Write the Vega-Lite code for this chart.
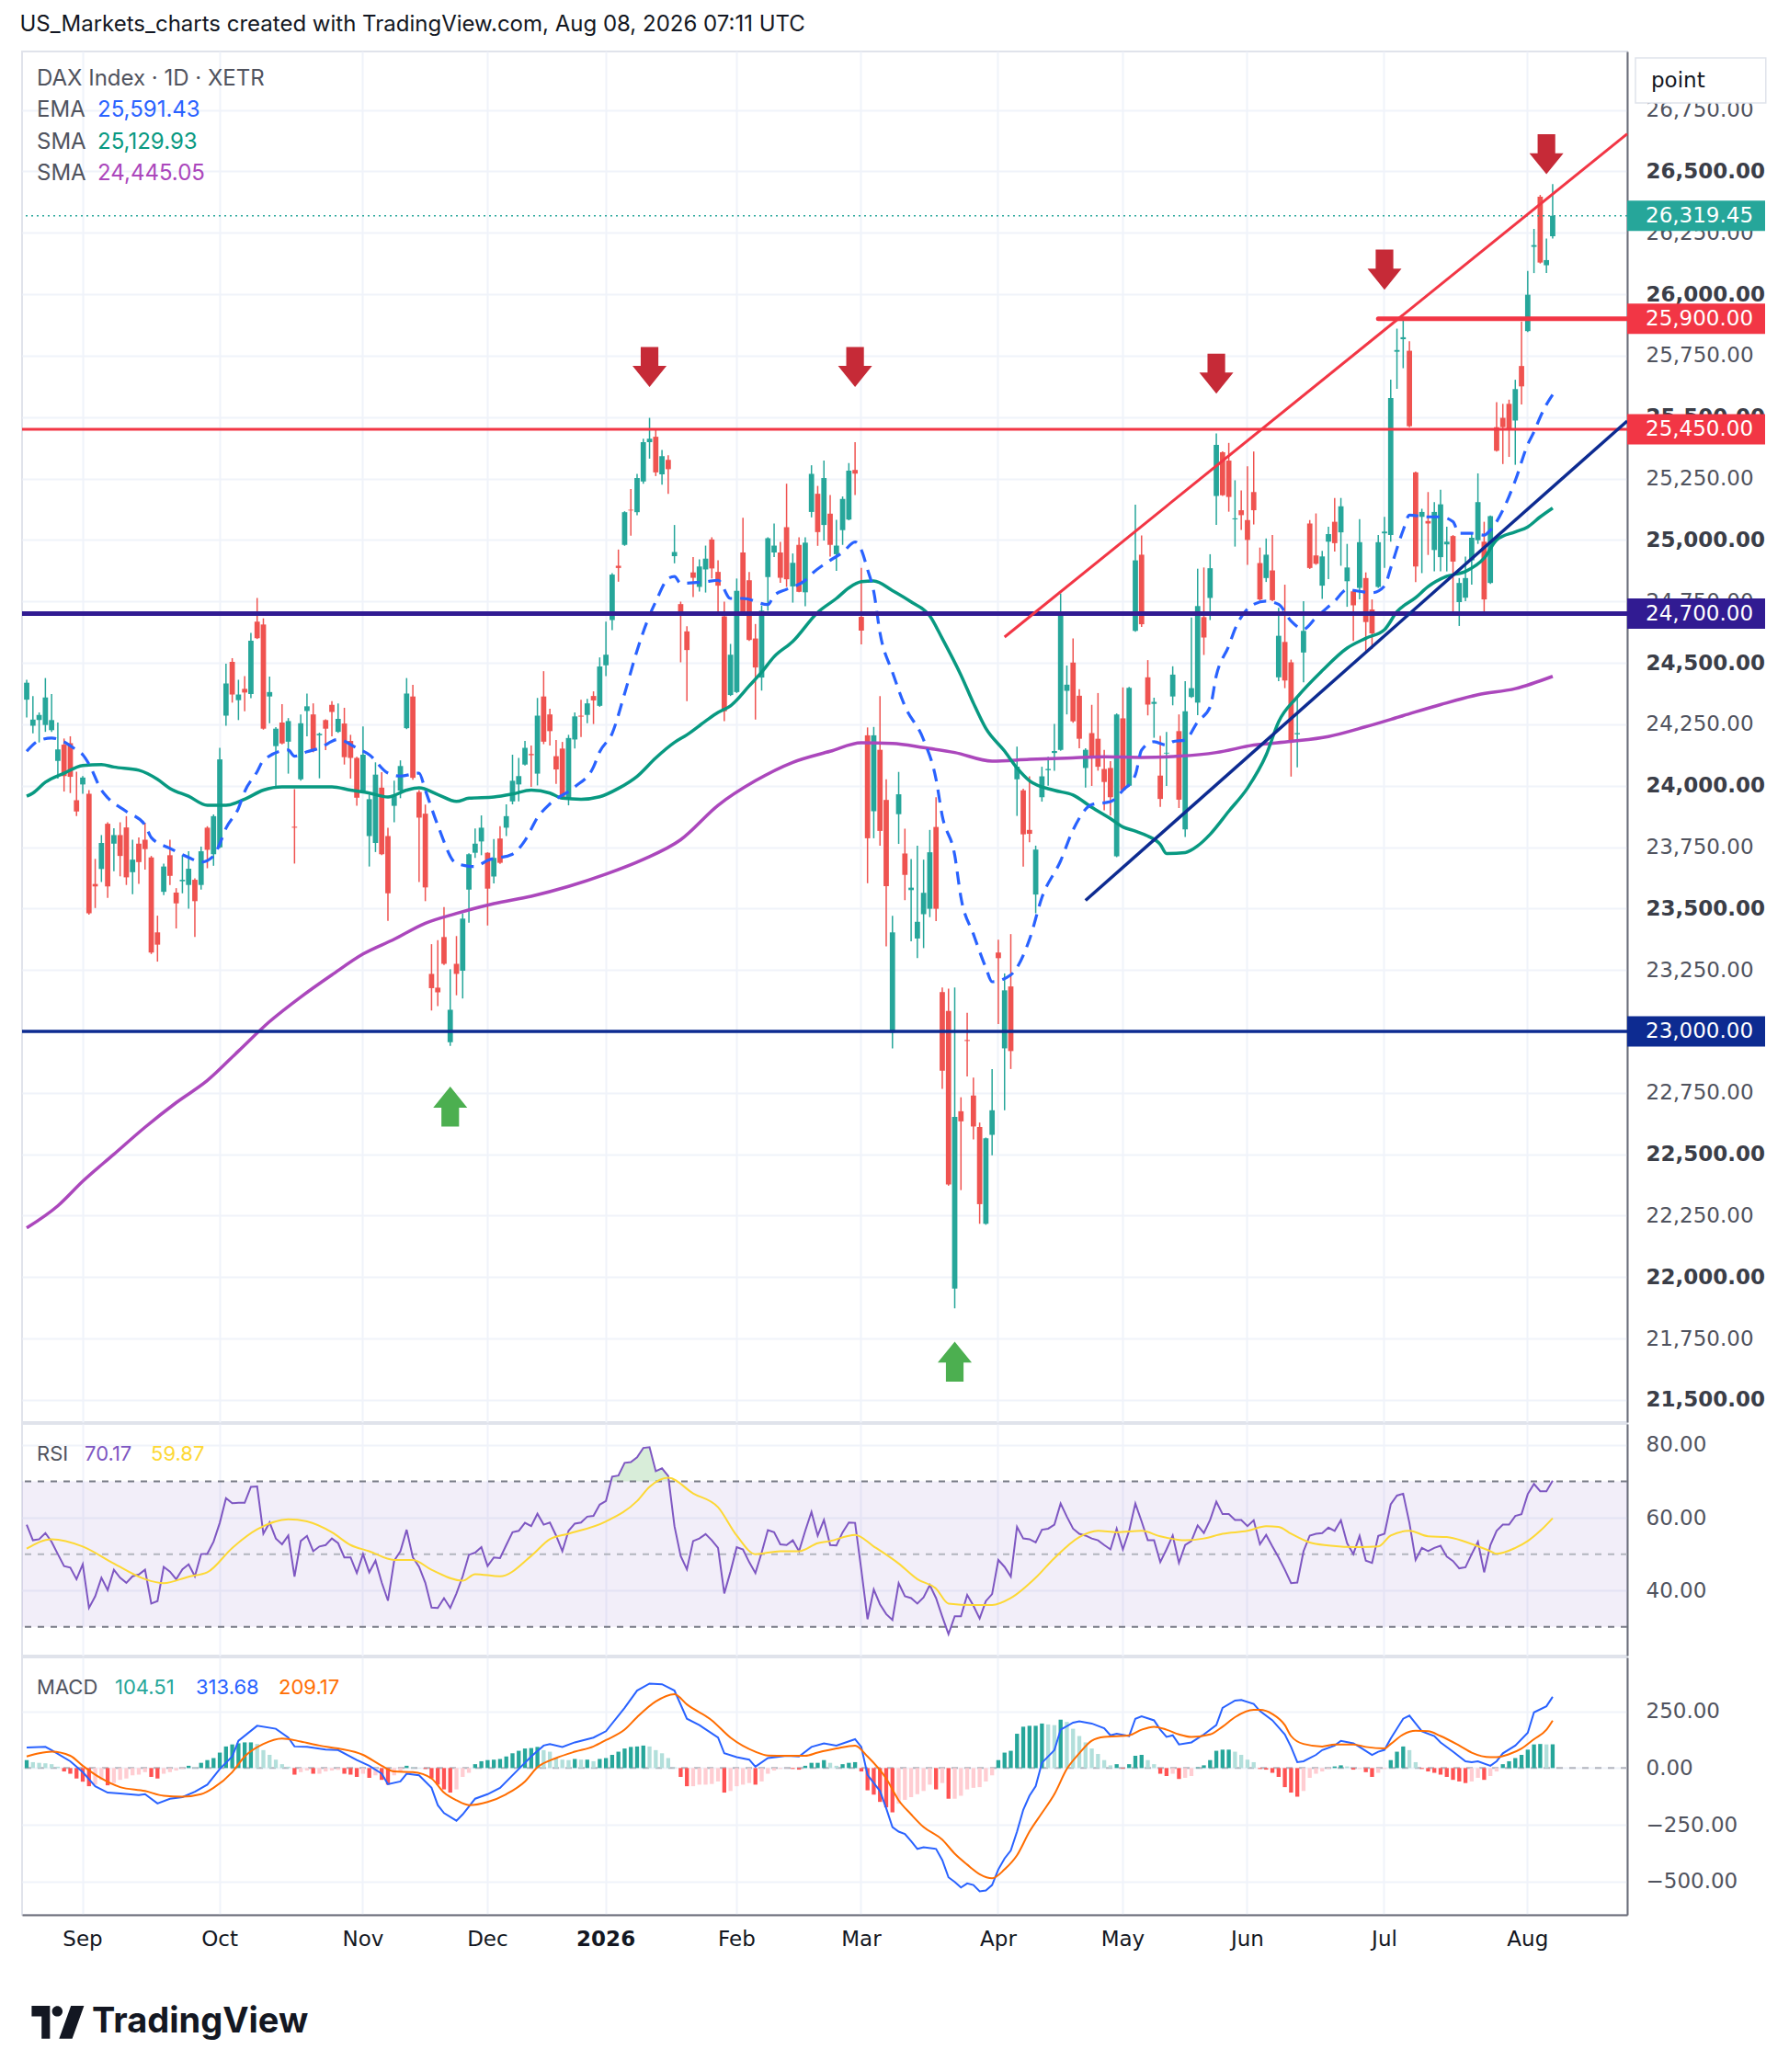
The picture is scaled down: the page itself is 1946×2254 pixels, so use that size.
{
  "$schema": "https://vega.github.io/schema/vega-lite/v6.json",
  "background": "#ffffff",
  "padding": {"left": 20, "top": 14, "right": 20, "bottom": 36},
  "config": {
    "font": "Inter",
    "view": {"stroke": "#E0E3EB", "strokeWidth": 2},
    "axis": {"labelFont": "DejaVu Sans", "labelFontSize": 23, "labelColor": "#50535E", "gridColor": "#F0F3FA", "gridWidth": 2, "ticks": false, "domainColor": "#6A6D78", "domainWidth": 2},
    "text": {"font": "Inter"},
    "title": {"font": "Inter"}
  },
  "datasets": {
    "bars": [
      {"d":"2025-08-19","o":24350,"h":24431,"l":24278,"c":24419,"r":58.1,"g":35,"e":24140,"s":23957,"t":22200,"q":51.5,"m":90,"n":51},
      {"d":"2025-08-20","o":24244,"h":24365,"l":24213,"c":24269,"r":53.8,"g":26,"s":23970},
      {"d":"2025-08-21","o":24267,"h":24298,"l":24176,"c":24288,"r":54.1,"g":23,"e":24184,"n":65},
      {"d":"2025-08-22","o":24247,"h":24438,"l":24219,"c":24359,"r":55.8,"g":21,"s":24014,"m":93},
      {"d":"2025-08-25","o":24226,"h":24373,"l":24219,"c":24267,"r":53.4,"g":17,"e":24194,"q":54.1,"m":79,"n":72},
      {"d":"2025-08-26","o":24101,"h":24257,"l":24029,"c":24148,"r":50.0,"g":6,"t":22290},
      {"d":"2025-08-27","o":24167,"h":24192,"l":23976,"c":24039,"r":46.7,"g":-15,"s":24051},
      {"d":"2025-08-28","o":24173,"h":24201,"l":23970,"c":24036,"r":46.3,"g":-25,"m":30,"n":54},
      {"d":"2025-08-29","o":23941,"h":24057,"l":23876,"c":23895,"r":43.1,"g":-46,"e":24145},
      {"d":"2025-09-01","o":24005,"h":24039,"l":23967,"c":24033,"r":47.2,"g":-60,"e":24126,"s":24082,"t":22390,"q":52.1,"m":-18,"n":10},
      {"d":"2025-09-02","o":23967,"h":23982,"l":23475,"c":23481,"r":35.2,"g":-80,"e":24088},
      {"d":"2025-09-03","o":23600,"h":23702,"l":23502,"c":23590,"r":38.4,"g":-73,"m":-80},
      {"d":"2025-09-04","o":23661,"h":23799,"l":23608,"c":23767,"r":43.5,"g":-52,"e":23982,"s":24086,"n":-46},
      {"d":"2025-09-05","o":23845,"h":23851,"l":23543,"c":23590,"r":40.1,"g":-76,"e":23951,"m":-108},
      {"d":"2025-09-08","o":23764,"h":23827,"l":23652,"c":23799,"r":45.7,"g":-66,"s":24076,"t":22500,"q":47.4},
      {"d":"2025-09-09","o":23799,"h":23851,"l":23631,"c":23714,"r":43.5,"g":-52,"m":-112,"n":-84},
      {"d":"2025-09-10","o":23830,"h":23876,"l":23596,"c":23627,"r":42.1,"g":-46,"e":23895},
      {"d":"2025-09-11","o":23648,"h":23780,"l":23558,"c":23699,"r":43.9,"g":-32},
      {"d":"2025-09-12","o":23764,"h":23789,"l":23600,"c":23689,"r":44.4,"g":-29,"s":24063,"m":-119},
      {"d":"2025-09-15","o":23780,"h":23849,"l":23658,"c":23742,"r":45.7,"g":-18,"e":23840,"t":22610,"q":43.1,"m":-115,"n":-101},
      {"d":"2025-09-16","o":23708,"h":23714,"l":23315,"c":23321,"r":36.4,"g":-39,"e":23789},
      {"d":"2025-09-17","o":23403,"h":23471,"l":23284,"c":23353,"r":37.1,"g":-46,"s":24026,"m":-156},
      {"d":"2025-09-18","o":23568,"h":23683,"l":23555,"c":23671,"r":46.5,"g":-25,"q":42.0,"n":-122},
      {"d":"2025-09-19","o":23717,"h":23780,"l":23596,"c":23633,"r":45.2,"g":-18,"e":23745,"s":23989,"m":-135},
      {"d":"2025-09-22","o":23565,"h":23583,"l":23419,"c":23521,"r":43.1,"g":-11,"t":22710},
      {"d":"2025-09-23","o":23611,"h":23717,"l":23562,"c":23617,"r":45.8,"g":-4,"m":-128,"n":-126},
      {"d":"2025-09-24","o":23596,"h":23733,"l":23499,"c":23662,"r":47.2,"g":10,"e":23708,"s":23957,"q":43.8},
      {"d":"2025-09-25","o":23617,"h":23623,"l":23384,"c":23530,"r":43.9,"g":3,"m":-104},
      {"d":"2025-09-26","o":23596,"h":23752,"l":23577,"c":23733,"r":50.0,"g":23,"e":23689,"n":-115},
      {"d":"2025-09-29","o":23829,"h":23835,"l":23664,"c":23739,"r":50.1,"g":35,"s":23920,"t":22800,"q":45.0,"m":-73},
      {"d":"2025-09-30","o":23721,"h":23883,"l":23674,"c":23876,"r":53.4,"g":44,"e":23714,"n":-87},
      {"d":"2025-10-01","o":23749,"h":24154,"l":23745,"c":24107,"r":58.6,"g":68,"e":23764,"m":-4},
      {"d":"2025-10-02","o":24285,"h":24496,"l":24244,"c":24416,"r":65.4,"g":95,"e":23827,"s":23920},
      {"d":"2025-10-03","o":24504,"h":24519,"l":24338,"c":24371,"r":64.0,"g":104,"q":51.7,"m":51,"n":-18},
      {"d":"2025-10-06","o":24348,"h":24431,"l":24267,"c":24371,"r":64.1,"g":109,"e":23908,"t":22920,"m":120},
      {"d":"2025-10-07","o":24394,"h":24446,"l":24303,"c":24379,"r":64.1,"g":113,"e":23976,"s":23945,"n":51},
      {"d":"2025-10-08","o":24373,"h":24622,"l":24356,"c":24590,"r":68.5,"g":113},
      {"d":"2025-10-09","o":24668,"h":24764,"l":24597,"c":24600,"r":68.6,"g":106,"e":24057,"q":56.8,"m":186},
      {"d":"2025-10-10","o":24656,"h":24681,"l":24228,"c":24232,"r":55.6,"g":79,"e":24103,"s":23982,"n":106},
      {"d":"2025-10-13","o":24363,"h":24444,"l":24254,"c":24381,"r":58.7,"g":58,"t":23040},
      {"d":"2025-10-14","o":24161,"h":24238,"l":23995,"c":24232,"r":54.3,"g":37,"m":173},
      {"d":"2025-10-15","o":24257,"h":24332,"l":24168,"c":24172,"r":52.7,"g":17,"s":23995,"n":130},
      {"d":"2025-10-16","o":24179,"h":24275,"l":24049,"c":24263,"r":55.1,"g":6,"e":24145,"q":59.6,"m":134},
      {"d":"2025-10-17","o":23833,"h":23986,"l":23683,"c":23829,"r":43.8,"g":-29,"e":24120,"m":95},
      {"d":"2025-10-20","o":24026,"h":24290,"l":24020,"c":24254,"r":53.6,"g":-18,"s":23995,"t":23140,"n":117},
      {"d":"2025-10-21","o":24304,"h":24375,"l":24201,"c":24323,"r":55.0,"g":-11,"e":24138,"q":59.0,"m":93},
      {"d":"2025-10-22","o":24290,"h":24335,"l":24136,"c":24142,"r":50.8,"g":-25},
      {"d":"2025-10-23","o":24205,"h":24216,"l":24030,"c":24211,"r":52.1,"g":-25,"e":24153,"s":23995,"n":99},
      {"d":"2025-10-24","o":24267,"h":24270,"l":24145,"c":24232,"r":52.5,"g":-15,"m":81},
      {"d":"2025-10-27","o":24329,"h":24344,"l":24201,"c":24300,"r":54.3,"g":-11,"s":23995,"t":23230,"q":56.0},
      {"d":"2025-10-28","o":24219,"h":24335,"l":24215,"c":24272,"r":53.0,"g":-8,"e":24188,"m":79,"n":86},
      {"d":"2025-10-29","o":24253,"h":24317,"l":24086,"c":24116,"r":49.1,"g":-25},
      {"d":"2025-10-30","o":24182,"h":24207,"l":24029,"c":24113,"r":49.1,"g":-29,"s":23982,"q":52.5},
      {"d":"2025-10-31","o":24113,"h":24118,"l":23918,"c":23951,"r":44.8,"g":-39,"e":24153,"m":35},
      {"d":"2025-11-03","o":23979,"h":24241,"l":23975,"c":24126,"r":50.0,"g":-25,"t":23315,"n":58},
      {"d":"2025-11-04","o":23795,"h":23964,"l":23671,"c":23945,"r":45.0,"g":-43,"e":24126,"s":23970,"q":50.8,"m":10},
      {"d":"2025-11-05","o":23767,"h":24095,"l":23730,"c":24045,"r":48.2,"g":-32},
      {"d":"2025-11-06","o":23992,"h":24055,"l":23717,"c":23721,"r":42.2,"g":-52,"m":-25,"n":10},
      {"d":"2025-11-07","o":23795,"h":23829,"l":23450,"c":23562,"r":37.2,"g":-73,"e":24051,"s":23954,"m":-71},
      {"d":"2025-11-10","o":23918,"h":24020,"l":23851,"c":23958,"r":48.2,"g":-32,"t":23375,"q":48.4,"n":-15},
      {"d":"2025-11-11","o":23980,"h":24103,"l":23949,"c":24080,"r":50.8,"g":-15,"e":24039,"m":-59},
      {"d":"2025-11-12","o":24234,"h":24438,"l":24230,"c":24375,"r":56.7,"g":10,"s":23982,"m":-25},
      {"d":"2025-11-13","o":24363,"h":24410,"l":24024,"c":24032,"r":49.1,"g":3,"q":48.4,"n":-18},
      {"d":"2025-11-14","o":23974,"h":23982,"l":23608,"c":23870,"r":46.5,"g":1,"e":24051,"s":23991,"m":-32},
      {"d":"2025-11-17","o":23886,"h":23923,"l":23530,"c":23586,"r":42.1,"g":-4,"e":23982,"t":23440},
      {"d":"2025-11-18","o":23234,"h":23355,"l":23085,"c":23176,"r":35.3,"g":-46,"q":45.7,"m":-87,"n":-46},
      {"d":"2025-11-19","o":23178,"h":23371,"l":23103,"c":23159,"r":35.2,"g":-73,"e":23839,"s":23964,"m":-163},
      {"d":"2025-11-20","o":23384,"h":23506,"l":23270,"c":23275,"r":37.9,"g":-94,"m":-198,"n":-108},
      {"d":"2025-11-21","o":22956,"h":23253,"l":22941,"c":23088,"r":35.2,"g":-108},
      {"d":"2025-11-24","o":23275,"h":23388,"l":23147,"c":23234,"r":39.2,"g":-94,"e":23683,"s":23936,"t":23480,"m":-232,"n":-142},
      {"d":"2025-11-25","o":23247,"h":23480,"l":23134,"c":23459,"r":43.9,"g":-39,"q":42.7,"m":-204},
      {"d":"2025-11-26","o":23577,"h":23725,"l":23442,"c":23721,"r":49.8,"g":-21,"s":23949,"n":-163},
      {"d":"2025-11-27","o":23727,"h":23826,"l":23706,"c":23764,"r":50.4,"g":17,"e":23671,"q":44.5,"m":-135},
      {"d":"2025-11-28","o":23773,"h":23879,"l":23717,"c":23829,"r":51.9,"g":30},
      {"d":"2025-12-01","o":23727,"h":23729,"l":23431,"c":23581,"r":46.7,"g":35,"e":23696,"m":-115,"n":-149},
      {"d":"2025-12-02","o":23630,"h":23783,"l":23602,"c":23706,"r":49.1,"g":37,"s":23954,"t":23520},
      {"d":"2025-12-03","o":23785,"h":23835,"l":23682,"c":23686,"r":48.9,"g":40,"q":43.9,"m":-87},
      {"d":"2025-12-04","o":23829,"h":23924,"l":23795,"c":23876,"r":52.5,"g":51,"n":-115},
      {"d":"2025-12-05","o":23936,"h":24126,"l":23924,"c":24020,"r":56.0,"g":65,"e":23721,"s":23966},
      {"d":"2025-12-08","o":24005,"h":24113,"l":23936,"c":24039,"r":56.4,"g":76,"m":-4},
      {"d":"2025-12-09","o":24086,"h":24182,"l":24082,"c":24154,"r":58.6,"g":86,"e":23777,"n":-59},
      {"d":"2025-12-10","o":24129,"h":24163,"l":23995,"c":24124,"r":57.7,"g":88,"s":23982,"t":23550,"q":49.5,"m":51},
      {"d":"2025-12-11","o":24049,"h":24357,"l":24001,"c":24285,"r":61.1,"g":93,"e":23870,"n":3},
      {"d":"2025-12-12","o":24363,"h":24466,"l":24169,"c":24179,"r":58.1,"g":79,"m":99},
      {"d":"2025-12-15","o":24290,"h":24313,"l":24163,"c":24222,"r":58.7,"g":72,"e":23926,"s":23970,"q":54.1,"m":106},
      {"d":"2025-12-16","o":24120,"h":24186,"l":24007,"c":24066,"r":55.1,"g":44,"n":44},
      {"d":"2025-12-17","o":24151,"h":24178,"l":23945,"c":23949,"r":50.8,"g":37,"s":23949,"m":93},
      {"d":"2025-12-18","o":23949,"h":24207,"l":23920,"c":24194,"r":56.4,"g":35,"t":23590,"q":55.6},
      {"d":"2025-12-19","o":24188,"h":24298,"l":24151,"c":24282,"r":58.4,"g":40,"e":23995,"m":113,"n":72},
      {"d":"2025-12-22","o":24285,"h":24350,"l":24198,"c":24281,"r":58.7,"g":37,"s":23945},
      {"d":"2025-12-23","o":24288,"h":24353,"l":24254,"c":24335,"r":60.3,"g":37},
      {"d":"2025-12-29","o":24365,"h":24384,"l":24251,"c":24347,"r":60.5,"g":30,"e":24076,"m":134,"n":95},
      {"d":"2025-12-30","o":24325,"h":24522,"l":24321,"c":24485,"r":63.6,"g":40,"e":24138,"s":23955},
      {"d":"2026-01-02","o":24490,"h":24668,"l":24446,"c":24533,"r":64.6,"g":44,"t":23640,"q":59.0,"m":162,"n":123},
      {"d":"2026-01-05","o":24674,"h":24865,"l":24633,"c":24859,"r":71.3,"g":58,"e":24213},
      {"d":"2026-01-06","o":24895,"h":24961,"l":24830,"c":24886,"r":71.6,"g":72,"s":23989},
      {"d":"2026-01-07","o":24980,"h":25117,"l":24976,"c":25113,"r":75.1,"g":86,"e":24375,"m":265,"n":169},
      {"d":"2026-01-08","o":25123,"h":25207,"l":25017,"c":25120,"r":75.3,"g":93},
      {"d":"2026-01-09","o":25113,"h":25269,"l":25101,"c":25252,"r":76.6,"g":95,"e":24550,"s":24038,"q":64.6,"m":341,"n":224},
      {"d":"2026-01-12","o":25238,"h":25412,"l":25229,"c":25398,"r":79.2,"g":99,"t":23700},
      {"d":"2026-01-13","o":25398,"h":25497,"l":25331,"c":25412,"r":79.4,"g":95,"e":24693,"q":68.5,"m":372},
      {"d":"2026-01-14","o":25420,"h":25454,"l":25260,"c":25275,"r":72.8,"g":79,"e":24749,"s":24113,"n":293},
      {"d":"2026-01-15","o":25267,"h":25366,"l":25225,"c":25341,"r":73.6,"g":65,"m":369},
      {"d":"2026-01-16","o":25326,"h":25345,"l":25188,"c":25288,"r":71.5,"g":44,"e":24843,"q":71.0},
      {"d":"2026-01-19","o":24934,"h":25061,"l":24905,"c":24951,"r":57.7,"g":3,"e":24851,"s":24176,"m":341,"n":325},
      {"d":"2026-01-20","o":24739,"h":24749,"l":24502,"c":24693,"r":49.5,"g":-39,"e":24824,"t":23780},
      {"d":"2026-01-21","o":24628,"h":24649,"l":24344,"c":24552,"r":45.8,"g":-80,"s":24207,"m":217,"n":280},
      {"d":"2026-01-22","o":24868,"h":24930,"l":24768,"c":24846,"r":53.6,"g":-80,"q":66.7},
      {"d":"2026-01-23","o":24809,"h":24921,"l":24790,"c":24892,"r":54.3,"g":-73,"m":189},
      {"d":"2026-01-26","o":24880,"h":24977,"l":24786,"c":24924,"r":55.5,"g":-73,"e":24830,"s":24263},
      {"d":"2026-01-27","o":25002,"h":25011,"l":24843,"c":24884,"r":53.8,"g":-70,"n":210},
      {"d":"2026-01-28","o":24870,"h":24917,"l":24699,"c":24814,"r":51.7,"g":-59,"e":24836,"s":24298,"t":23920,"q":62.9,"m":134},
      {"d":"2026-01-29","o":24689,"h":24749,"l":24263,"c":24303,"r":39.2,"g":-108,"m":65},
      {"d":"2026-01-30","o":24369,"h":24577,"l":24365,"c":24533,"r":45.2,"g":-101,"e":24762,"s":24325,"n":134},
      {"d":"2026-02-02","o":24381,"h":24843,"l":24377,"c":24793,"r":51.9,"g":-80,"q":55.1,"m":48},
      {"d":"2026-02-03","o":24949,"h":25090,"l":24693,"c":24697,"r":51.3,"g":-73,"e":24762},
      {"d":"2026-02-04","o":24836,"h":24870,"l":24589,"c":24593,"r":47.8,"g":-66,"s":24406,"m":37},
      {"d":"2026-02-05","o":24599,"h":24658,"l":24269,"c":24481,"r":44.8,"g":-73,"t":24020,"q":50.0,"m":6,"n":72},
      {"d":"2026-02-06","o":24440,"h":24733,"l":24387,"c":24712,"r":50.4,"g":-59,"s":24462},
      {"d":"2026-02-09","o":24849,"h":25011,"l":24712,"c":25007,"r":56.6,"g":-25,"e":24737,"m":44,"n":55},
      {"d":"2026-02-10","o":24949,"h":25067,"l":24930,"c":24977,"r":56.0,"g":-11,"e":24774,"s":24525},
      {"d":"2026-02-11","o":24949,"h":24992,"l":24826,"c":24846,"r":52.7,"g":-4,"q":50.8},
      {"d":"2026-02-12","o":25052,"h":25229,"l":24809,"c":24840,"r":52.5,"g":-1,"e":24799,"m":54,"n":54},
      {"d":"2026-02-13","o":24811,"h":24945,"l":24745,"c":24907,"r":53.8,"g":-4,"s":24587,"t":24095},
      {"d":"2026-02-16","o":24980,"h":25011,"l":24787,"c":24789,"r":50.8,"g":-7,"q":50.8,"m":51},
      {"d":"2026-02-17","o":24787,"h":25011,"l":24730,"c":24989,"r":56.4,"g":10,"e":24836,"n":54},
      {"d":"2026-02-18","o":25114,"h":25304,"l":25092,"c":25269,"r":61.6,"g":23,"e":24861,"m":93},
      {"d":"2026-02-19","o":25188,"h":25220,"l":24976,"c":25032,"r":55.1,"g":23,"s":24705,"q":53.0,"n":68},
      {"d":"2026-02-20","o":25061,"h":25323,"l":24998,"c":25252,"r":59.4,"g":35,"m":109},
      {"d":"2026-02-23","o":25107,"h":25183,"l":24932,"c":24980,"r":52.5,"g":23,"e":24917,"t":24140,"q":53.6},
      {"d":"2026-02-24","o":24942,"h":25082,"l":24874,"c":24977,"r":52.4,"g":10,"s":24762,"m":99,"n":86},
      {"d":"2026-02-25","o":25040,"h":25177,"l":24980,"c":25167,"r":56.0,"g":17,"e":24949},
      {"d":"2026-02-26","o":25083,"h":25313,"l":25080,"c":25282,"r":58.7,"g":23,"s":24805},
      {"d":"2026-02-27","o":25285,"h":25398,"l":25183,"c":25270,"r":58.6,"g":26,"e":24992,"q":55.3,"m":127,"n":99},
      {"d":"2026-03-02","o":24687,"h":24886,"l":24575,"c":24631,"r":45.7,"g":-15,"e":24960,"s":24830,"t":24175,"m":93},
      {"d":"2026-03-03","o":24205,"h":24237,"l":23603,"c":23786,"r":32.1,"g":-98,"e":24880,"m":-30,"n":51},
      {"d":"2026-03-04","o":23896,"h":24239,"l":23786,"c":24205,"r":40.3,"g":-117,"e":24790,"s":24833,"q":52.1},
      {"d":"2026-03-05","o":24146,"h":24365,"l":23756,"c":23816,"r":36.2,"g":-149,"e":24622,"m":-101},
      {"d":"2026-03-06","o":23942,"h":24026,"l":23346,"c":23591,"r":33.5,"g":-173,"m":-177,"n":-46},
      {"d":"2026-03-09","o":22995,"h":23470,"l":22931,"c":23403,"r":31.9,"g":-195,"e":24462,"s":24794,"t":24172,"m":-260},
      {"d":"2026-03-10","o":23884,"h":24056,"l":23763,"c":23965,"r":42.0,"g":-157,"q":47.4,"m":-280,"n":-142},
      {"d":"2026-03-11","o":23724,"h":23825,"l":23534,"c":23637,"r":38.4,"g":-140,"e":24324,"m":-290},
      {"d":"2026-03-12","o":23575,"h":23701,"l":23367,"c":23585,"r":37.9,"g":-128,"s":24748,"m":-322,"n":-204},
      {"d":"2026-03-13","o":23378,"h":23756,"l":23298,"c":23446,"r":36.4,"g":-115,"q":43.1,"m":-356},
      {"d":"2026-03-16","o":23477,"h":23699,"l":23339,"c":23564,"r":38.1,"g":-101,"e":24187,"t":24155,"m":-349,"n":-260},
      {"d":"2026-03-17","o":23499,"h":23820,"l":23465,"c":23729,"r":41.5,"g":-73,"s":24691},
      {"d":"2026-03-18","o":23832,"h":23953,"l":23449,"c":23499,"r":37.9,"g":-94,"e":24026,"q":40.5,"m":-356},
      {"d":"2026-03-19","o":23160,"h":23179,"l":22766,"c":22840,"r":32.8,"g":-66,"e":23877,"s":24599,"m":-405,"n":-315},
      {"d":"2026-03-20","o":23083,"h":23174,"l":22372,"c":22377,"r":28.0,"g":-135,"q":36.4,"m":-481},
      {"d":"2026-03-23","o":21953,"h":23179,"l":21873,"c":22652,"r":32.9,"g":-135,"e":23717,"t":24135,"m":-501,"n":-377},
      {"d":"2026-03-24","o":22675,"h":22732,"l":22354,"c":22634,"r":32.9,"g":-122,"e":23545,"s":24450,"m":-526},
      {"d":"2026-03-25","o":22965,"h":23076,"l":22817,"c":22961,"r":38.8,"g":-94,"m":-508,"n":-425},
      {"d":"2026-03-26","o":22739,"h":22812,"l":22560,"c":22613,"r":35.8,"g":-87,"e":23396,"s":24336,"q":36.0,"m":-515},
      {"d":"2026-03-27","o":22611,"h":22629,"l":22217,"c":22297,"r":32.3,"g":-84,"m":-543,"n":-467},
      {"d":"2026-03-30","o":22217,"h":22568,"l":22213,"c":22565,"r":37.1,"g":-59,"e":23259,"s":24233,"m":-539},
      {"d":"2026-03-31","o":22579,"h":22847,"l":22496,"c":22679,"r":39.0,"g":-32,"e":23202,"t":24100,"q":36.0,"m":-515,"n":-485},
      {"d":"2026-04-01","o":23321,"h":23373,"l":23030,"c":23298,"r":48.4,"g":35,"m":-446},
      {"d":"2026-04-02","o":22931,"h":23236,"l":22679,"c":23167,"r":46.5,"g":68,"s":24141,"m":-398,"n":-446},
      {"d":"2026-04-07","o":23183,"h":23396,"l":22847,"c":22920,"r":43.8,"g":76,"e":23230,"q":37.9,"m":-363},
      {"d":"2026-04-08","o":24026,"h":24159,"l":23877,"c":24077,"r":57.5,"g":151,"s":24072,"m":-280,"n":-384},
      {"d":"2026-04-09","o":23981,"h":23988,"l":23671,"c":23802,"r":54.3,"g":182,"m":-184},
      {"d":"2026-04-10","o":23820,"h":24038,"l":23770,"c":23804,"r":54.1,"g":186,"e":23374,"s":24020,"t":24107,"m":-122,"n":-280},
      {"d":"2026-04-13","o":23557,"h":23756,"l":23481,"c":23740,"r":53.2,"g":186,"q":43.5,"m":-80},
      {"d":"2026-04-14","o":23953,"h":24077,"l":23935,"c":24038,"r":56.7,"g":196,"e":23545,"m":23,"n":-198},
      {"d":"2026-04-15","o":24063,"h":24118,"l":24000,"c":24068,"r":57.0,"g":192},
      {"d":"2026-04-16","o":24133,"h":24251,"l":24061,"c":24141,"r":58.1,"g":189,"s":23981,"q":48.9,"m":79,"n":-115},
      {"d":"2026-04-17","o":24146,"h":24782,"l":24142,"c":24698,"r":63.9,"g":213,"e":23694,"m":169},
      {"d":"2026-04-20","o":24386,"h":24489,"l":24290,"c":24411,"r":60.3,"g":203,"t":24112,"n":-4},
      {"d":"2026-04-21","o":24501,"h":24599,"l":24256,"c":24262,"r":57.0,"g":173,"e":23820,"s":23962,"m":200},
      {"d":"2026-04-22","o":24366,"h":24393,"l":24152,"c":24191,"r":55.6,"g":141,"q":54.7,"m":206,"n":65},
      {"d":"2026-04-23","o":24072,"h":24152,"l":23992,"c":24146,"r":55.1,"g":113},
      {"d":"2026-04-24","o":24214,"h":24329,"l":23999,"c":24118,"r":54.3,"g":86,"e":23923,"s":23912,"m":196,"n":120},
      {"d":"2026-04-27","o":24191,"h":24377,"l":24061,"c":24077,"r":53.8,"g":62,"q":56.4},
      {"d":"2026-04-28","o":24068,"h":24146,"l":23900,"c":24015,"r":52.5,"g":35,"t":24118,"m":175,"n":137},
      {"d":"2026-04-29","o":24072,"h":24100,"l":23878,"c":23953,"r":51.3,"g":12,"e":23935,"s":23866,"m":144},
      {"d":"2026-04-30","o":23713,"h":24294,"l":23709,"c":24290,"r":57.0,"g":17,"q":56.0,"m":151,"n":140},
      {"d":"2026-05-04","o":24274,"h":24400,"l":23976,"c":23981,"r":51.3,"g":-3,"e":23981,"s":23832},
      {"d":"2026-05-05","o":24000,"h":24402,"l":23996,"c":24398,"r":56.4,"g":17,"m":141,"n":144},
      {"d":"2026-05-06","o":24630,"h":25144,"l":24626,"c":24917,"r":63.9,"g":54,"e":24044,"s":23815,"m":217},
      {"d":"2026-05-07","o":24940,"h":25018,"l":24646,"c":24657,"r":59.0,"g":58,"e":24145,"t":24115,"q":56.4,"m":228,"n":169},
      {"d":"2026-05-08","o":24441,"h":24511,"l":24286,"c":24330,"r":53.8,"g":35,"s":23795},
      {"d":"2026-05-11","o":24333,"h":24358,"l":24195,"c":24341,"r":53.8,"g":17,"e":24179,"m":210,"n":182},
      {"d":"2026-05-12","o":24041,"h":24203,"l":23914,"c":23946,"r":47.8,"g":-25,"s":23761,"q":54.9,"m":169},
      {"d":"2026-05-13","o":24131,"h":24219,"l":23999,"c":24134,"r":51.3,"g":-35,"e":24165,"s":23724,"m":137,"n":169},
      {"d":"2026-05-14","o":24363,"h":24486,"l":24327,"c":24452,"r":55.1,"g":-25,"e":24179,"m":144},
      {"d":"2026-05-15","o":24222,"h":24290,"l":23909,"c":23943,"r":47.6,"g":-48,"t":24120,"m":104,"n":148},
      {"d":"2026-05-18","o":23822,"h":24425,"l":23791,"c":24303,"r":52.5,"g":-43,"e":24186,"s":23728,"q":53.8},
      {"d":"2026-05-19","o":24361,"h":24684,"l":24357,"c":24397,"r":53.6,"g":-35,"m":113,"n":137},
      {"d":"2026-05-20","o":24338,"h":24883,"l":24287,"c":24731,"r":57.9,"g":3,"e":24260,"s":23755},
      {"d":"2026-05-21","o":24686,"h":24888,"l":24532,"c":24603,"r":55.8,"g":12,"q":54.3,"m":148},
      {"d":"2026-05-22","o":24764,"h":24942,"l":24674,"c":24885,"r":59.4,"g":35,"e":24320,"s":23802,"n":148},
      {"d":"2026-05-25","o":25179,"h":25434,"l":25061,"c":25387,"r":64.4,"g":76,"e":24448,"t":24135,"m":189},
      {"d":"2026-05-26","o":25357,"h":25361,"l":25179,"c":25182,"r":61.0,"g":81,"q":55.6,"m":265,"n":182},
      {"d":"2026-05-27","o":25323,"h":25395,"l":25115,"c":25175,"r":61.0,"g":81,"e":24569,"s":23896},
      {"d":"2026-05-28","o":25084,"h":25243,"l":24973,"c":25088,"r":59.4,"g":72,"e":24637,"m":297,"n":224},
      {"d":"2026-05-29","o":25121,"h":25202,"l":25041,"c":25101,"r":59.4,"g":58,"m":300},
      {"d":"2026-06-01","o":25081,"h":25300,"l":24899,"c":25000,"r":57.7,"g":37,"s":23990,"q":56.4},
      {"d":"2026-06-02","o":25195,"h":25360,"l":25063,"c":25121,"r":59.3,"g":26,"e":24738,"t":24165,"m":282,"n":256},
      {"d":"2026-06-03","o":24906,"h":24969,"l":24754,"c":24758,"r":52.7,"g":-4,"m":251,"n":256},
      {"d":"2026-06-04","o":24845,"h":25006,"l":24829,"c":24940,"r":55.3,"g":-7,"e":24751,"s":24125,"q":57.7},
      {"d":"2026-06-05","o":24876,"h":25020,"l":24751,"c":24755,"r":52.1,"g":-21,"m":210,"n":238},
      {"d":"2026-06-08","o":24441,"h":24724,"l":24425,"c":24610,"r":49.1,"g":-39,"e":24738,"s":24260,"q":57.5},
      {"d":"2026-06-09","o":24585,"h":24818,"l":24397,"c":24428,"r":45.7,"g":-84,"m":148,"n":189},
      {"d":"2026-06-10","o":24502,"h":24513,"l":24037,"c":24186,"r":42.0,"g":-108,"e":24670,"t":24180,"q":55.6,"m":93,"n":141},
      {"d":"2026-06-11","o":24209,"h":24354,"l":24075,"c":24214,"r":42.2,"g":-126,"s":24361,"m":26},
      {"d":"2026-06-12","o":24542,"h":24751,"l":24421,"c":24630,"r":50.8,"g":-101,"e":24637,"m":30,"n":106},
      {"d":"2026-06-15","o":25067,"h":25081,"l":24882,"c":24886,"r":55.1,"g":-43,"q":53.2},
      {"d":"2026-06-16","o":24937,"h":25108,"l":24899,"c":24903,"r":55.6,"g":-25,"e":24684,"m":58},
      {"d":"2026-06-17","o":24814,"h":24956,"l":24760,"c":24933,"r":55.8,"g":-15,"s":24468,"m":79,"n":95},
      {"d":"2026-06-18","o":24993,"h":25054,"l":24841,"c":25024,"r":57.3,"g":-4,"t":24200,"q":52.4},
      {"d":"2026-06-19","o":25074,"h":25171,"l":24953,"c":24987,"r":56.4,"g":7,"e":24751,"m":99,"n":104},
      {"d":"2026-06-22","o":25031,"h":25171,"l":24895,"c":25137,"r":59.3,"g":12,"m":120},
      {"d":"2026-06-23","o":24832,"h":24984,"l":24728,"c":24888,"r":53.0,"g":7,"e":24798,"s":24560},
      {"d":"2026-06-24","o":24791,"h":24798,"l":24589,"c":24734,"r":50.0,"g":-7,"m":109,"n":104},
      {"d":"2026-06-25","o":24805,"h":25085,"l":24758,"c":24991,"r":55.0,"g":-4,"e":24791,"q":51.9,"m":93},
      {"d":"2026-06-26","o":24845,"h":24868,"l":24549,"c":24666,"r":48.2,"g":-18,"s":24600,"t":24240,"n":93},
      {"d":"2026-06-29","o":24717,"h":24758,"l":24556,"c":24620,"r":47.6,"g":-39,"e":24785,"m":58},
      {"d":"2026-06-30","o":24809,"h":25020,"l":24805,"c":24991,"r":55.0,"g":-21,"q":52.1,"m":72},
      {"d":"2026-07-01","o":25027,"h":25094,"l":24886,"c":25034,"r":55.6,"g":-4,"e":24812,"s":24635,"m":80,"n":86},
      {"d":"2026-07-02","o":25020,"h":25652,"l":24993,"c":25578,"r":63.7,"g":35,"e":24886,"q":55.1,"m":130,"n":106},
      {"d":"2026-07-03","o":25766,"h":25860,"l":25615,"c":25773,"r":66.1,"g":72,"s":24708},
      {"d":"2026-07-06","o":25817,"h":25893,"l":25699,"c":25825,"r":66.6,"g":95,"e":25040,"t":24285,"m":217,"n":148},
      {"d":"2026-07-07","o":25770,"h":25809,"l":25459,"c":25463,"r":58.6,"g":79,"e":25101,"q":56.4,"m":231},
      {"d":"2026-07-08","o":25275,"h":25278,"l":24828,"c":24892,"r":48.4,"g":26,"s":24765,"m":196,"n":164},
      {"d":"2026-07-09","o":25094,"h":25127,"l":24865,"c":25114,"r":51.7,"g":-4,"m":162},
      {"d":"2026-07-10","o":25077,"h":25195,"l":24939,"c":25067,"r":50.8,"g":-15,"e":25094,"s":24810,"q":54.9,"n":162},
      {"d":"2026-07-13","o":24959,"h":25154,"l":24872,"c":25114,"r":51.7,"g":-21,"m":141},
      {"d":"2026-07-14","o":24930,"h":25204,"l":24872,"c":25145,"r":52.3,"g":-29,"e":25094,"t":24330,"m":113,"n":141},
      {"d":"2026-07-15","o":24982,"h":25054,"l":24872,"c":24993,"r":49.3,"g":-39,"s":24852,"q":54.7},
      {"d":"2026-07-16","o":25016,"h":25020,"l":24697,"c":24912,"r":48.1,"g":-52,"e":25074,"m":72},
      {"d":"2026-07-17","o":24747,"h":24845,"l":24650,"c":24825,"r":46.1,"g":-59,"e":25027,"n":99},
      {"d":"2026-07-20","o":24765,"h":24932,"l":24751,"c":24845,"r":46.4,"g":-66,"s":24872,"q":53.4,"m":30},
      {"d":"2026-07-21","o":24917,"h":25027,"l":24818,"c":25009,"r":50.0,"g":-59,"e":25027,"m":26,"n":68},
      {"d":"2026-07-22","o":24999,"h":25271,"l":24984,"c":25154,"r":53.4,"g":-43,"t":24370,"m":30},
      {"d":"2026-07-23","o":24993,"h":25074,"l":24697,"c":24758,"r":45.0,"g":-52,"e":25020,"s":24926},
      {"d":"2026-07-24","o":24825,"h":25100,"l":24821,"c":25097,"r":52.5,"g":-35,"e":25040,"q":50.8,"m":10,"n":48},
      {"d":"2026-07-27","o":25459,"h":25561,"l":25360,"c":25363,"r":56.4,"g":-15,"s":25000,"q":50.1,"m":30,"n":48},
      {"d":"2026-07-28","o":25497,"h":25554,"l":25309,"c":25459,"r":58.1,"g":17,"e":25121,"m":65},
      {"d":"2026-07-29","o":25554,"h":25571,"l":25338,"c":25454,"r":58.1,"g":30,"n":61},
      {"d":"2026-07-30","o":25486,"h":25652,"l":25306,"c":25614,"r":60.5,"g":44,"e":25242,"s":25033,"t":24395,"q":51.7,"m":99},
      {"d":"2026-07-31","o":25708,"h":25889,"l":25551,"c":25625,"r":61.0,"g":58,"n":86},
      {"d":"2026-08-03","o":25850,"h":26095,"l":25846,"c":25998,"r":66.5,"g":81,"e":25389,"s":25053,"q":53.6,"m":155},
      {"d":"2026-08-04","o":26193,"h":26266,"l":26086,"c":26200,"r":69.3,"g":104,"e":25440,"m":245,"n":127},
      {"d":"2026-08-05","o":26397,"h":26404,"l":26125,"c":26129,"r":67.3,"g":106,"e":25500,"s":25094,"q":56.4},
      {"d":"2026-08-06","o":26118,"h":26227,"l":26086,"c":26139,"r":67.3,"g":104,"e":25551,"m":272,"n":169},
      {"d":"2026-08-07","o":26236,"h":26448,"l":26227,"c":26319.45,"r":70.17,"g":104.51,"e":25591.43,"s":25129.93,"t":24445.05,"q":59.87,"m":313.68,"n":209.17}
    ],
    "down": [
      {"d":"2026-01-13","p":25704},
      {"d":"2026-02-27","p":25704},
      {"d":"2026-05-25","p":25677},
      {"d":"2026-07-01","p":26100},
      {"d":"2026-08-06","p":26570}
    ],
    "up": [
      {"d":"2025-11-21","p":22694},
      {"d":"2026-03-23","p":21656}
    ],
    "tags": [
      {"p":26319.45,"k":"last"},
      {"p":25900,"k":"r1"},
      {"p":25450,"k":"r2"},
      {"p":24700,"k":"s1"},
      {"p":23000,"k":"s2"}
    ]
  },
  "spacing": 0,
  "vconcat": [
    {
      "title": {"text": "US_Markets_charts created with TradingView.com, Aug 08, 2026 07:11 UTC", "anchor": "start", "fontSize": 24, "fontWeight": "normal", "color": "#131722", "offset": 17},
      "width": 1746,
      "height": 1491,
      "resolve": {"scale": {"x": "independent"}},
      "layer": [
        {
          "layer": [
            {
              "data": {"name": "bars"},
              "mark": {"type": "rule", "strokeWidth": 1.5},
              "encoding": {
                "x": {"field": "d", "type": "ordinal", "title": null,
                  "scale": {"type": "band", "paddingInner": 0.15, "paddingOuter": 0.43, "align": 0.37, "domain": {"unionWith": ["2026-08-10","2026-08-11","2026-08-12","2026-08-13","2026-08-14","2026-08-17","2026-08-18","2026-08-19","2026-08-20","2026-08-21","2026-08-24"]}},
                  "axis": {"values": ["2025-09-01","2025-10-01","2025-11-03","2025-12-01","2026-01-02","2026-02-02","2026-03-02","2026-04-01","2026-05-04","2026-06-01","2026-07-01","2026-08-03"], "labels": false, "domain": false, "ticks": false, "grid": true, "bandPosition": 0.5}},
                "y": {"field": "l", "type": "quantitative", "title": null,
                  "scale": {"domain": [21410, 26988], "nice": false, "zero": false},
                  "axis": {"orient": "right", "values": [21500,21750,22000,22250,22500,22750,23000,23250,23500,23750,24000,24250,24500,24750,25000,25250,25500,25750,26000,26250,26500,26750], "format": ",.2f", "grid": true, "domain": true, "labelPadding": 20,
                    "labelFontWeight": {"condition": {"test": "datum.value % 500 === 0", "value": "bold"}, "value": "normal"},
                    "labelColor": {"condition": {"test": "datum.value % 500 === 0", "value": "#3B3E48"}, "value": "#50535E"}}},
                "y2": {"field": "h"},
                "color": {"condition": {"test": "datum.c >= datum.o", "value": "#26A69A"}, "value": "#EF5350"}
              }
            },
            {
              "data": {"name": "bars"},
              "mark": {"type": "bar"},
              "encoding": {
                "x": {"field": "d", "type": "ordinal"},
                "y": {"field": "o", "type": "quantitative"},
                "y2": {"field": "c"},
                "color": {"condition": {"test": "datum.c >= datum.o", "value": "#26A69A"}, "value": "#EF5350"}
              }
            },
            {
              "data": {"name": "bars"},
              "transform": [{"filter": {"field": "t", "valid": true}}],
              "mark": {"type": "line", "color": "#AB47BC", "strokeWidth": 3.5, "interpolate": "monotone"},
              "encoding": {"x": {"field": "d", "type": "ordinal"}, "y": {"field": "t", "type": "quantitative"}}
            },
            {
              "data": {"name": "bars"},
              "transform": [{"filter": {"field": "s", "valid": true}}],
              "mark": {"type": "line", "color": "#089981", "strokeWidth": 3.5, "interpolate": "monotone"},
              "encoding": {"x": {"field": "d", "type": "ordinal"}, "y": {"field": "s", "type": "quantitative"}}
            },
            {
              "data": {"name": "bars"},
              "transform": [{"filter": {"field": "e", "valid": true}}],
              "mark": {"type": "line", "color": "#2962FF", "strokeWidth": 3.2, "strokeDash": [14, 9], "interpolate": "monotone"},
              "encoding": {"x": {"field": "d", "type": "ordinal"}, "y": {"field": "e", "type": "quantitative"}}
            },
            {
              "data": {"values": [{}]},
              "mark": {"type": "rule", "color": "#26A69A", "strokeWidth": 1.5, "strokeDash": [2, 4]},
              "encoding": {"y": {"datum": 26319.45}}
            },
            {
              "data": {"values": [{}]},
              "mark": {"type": "rule", "color": "#F23645", "strokeWidth": 3},
              "encoding": {"y": {"datum": 25450}}
            },
            {
              "data": {"values": [{}]},
              "mark": {"type": "rule", "color": "#311B92", "strokeWidth": 5},
              "encoding": {"y": {"datum": 24700}}
            },
            {
              "data": {"values": [{}]},
              "mark": {"type": "rule", "color": "#0D2B91", "strokeWidth": 3.5},
              "encoding": {"y": {"datum": 23000}}
            },
            {
              "data": {"values": [{}]},
              "mark": {"type": "rule", "color": "#F23645", "strokeWidth": 5, "strokeCap": "round"},
              "encoding": {"x": {"datum": "2026-06-30", "type": "ordinal"}, "x2": {"value": "width"}, "y": {"datum": 25900}}
            },
            {
              "data": {"values": [{}]},
              "mark": {"type": "rule", "color": "#F23645", "strokeWidth": 3},
              "encoding": {"x": {"datum": "2026-04-02", "type": "ordinal"}, "y": {"datum": 24605}, "x2": {"value": "width"}, "y2": {"datum": 26653}}
            },
            {
              "data": {"values": [{}]},
              "mark": {"type": "rule", "color": "#0D2B91", "strokeWidth": 3.5},
              "encoding": {"x": {"datum": "2026-04-23", "type": "ordinal"}, "y": {"datum": 23533}, "x2": {"value": "width"}, "y2": {"datum": 25484}}
            },
            {
              "data": {"name": "down"},
              "mark": {"type": "point", "shape": "M-0.44,-1L0.44,-1L0.44,-0.05L0.85,-0.05L0,1L-0.85,-0.05L-0.44,-0.05Z", "filled": true, "size": 1900, "color": "#C62A37", "opacity": 1},
              "encoding": {"x": {"field": "d", "type": "ordinal"}, "y": {"field": "p", "type": "quantitative"}}
            },
            {
              "data": {"name": "up"},
              "mark": {"type": "point", "shape": "M-0.44,1L0.44,1L0.44,0.05L0.85,0.05L0,-1L-0.85,0.05L-0.44,0.05Z", "filled": true, "size": 1900, "color": "#4CAF50", "opacity": 1},
              "encoding": {"x": {"field": "d", "type": "ordinal"}, "y": {"field": "p", "type": "quantitative"}}
            },
            {
              "data": {"values": [{}]},
              "mark": {"type": "text", "text": "DAX Index · 1D · XETR", "align": "left", "baseline": "middle", "dx": 11, "fontSize": 24, "color": "#50535E"},
              "encoding": {"x": {"datum": "2025-08-19", "type": "ordinal"}, "y": {"datum": 26876}}
            },
            {
              "data": {"values": [{}]},
              "mark": {"type": "text", "text": "EMA", "align": "left", "baseline": "middle", "dx": 11, "fontSize": 24, "color": "#50535E"},
              "encoding": {"x": {"datum": "2025-08-19", "type": "ordinal"}, "y": {"datum": 26747}}
            },
            {
              "data": {"values": [{}]},
              "mark": {"type": "text", "text": "25,591.43", "align": "left", "baseline": "middle", "dx": 77, "fontSize": 24, "color": "#2962FF"},
              "encoding": {"x": {"datum": "2025-08-19", "type": "ordinal"}, "y": {"datum": 26747}}
            },
            {
              "data": {"values": [{}]},
              "mark": {"type": "text", "text": "SMA", "align": "left", "baseline": "middle", "dx": 11, "fontSize": 24, "color": "#50535E"},
              "encoding": {"x": {"datum": "2025-08-19", "type": "ordinal"}, "y": {"datum": 26618}}
            },
            {
              "data": {"values": [{}]},
              "mark": {"type": "text", "text": "25,129.93", "align": "left", "baseline": "middle", "dx": 77, "fontSize": 24, "color": "#089981"},
              "encoding": {"x": {"datum": "2025-08-19", "type": "ordinal"}, "y": {"datum": 26618}}
            },
            {
              "data": {"values": [{}]},
              "mark": {"type": "text", "text": "SMA", "align": "left", "baseline": "middle", "dx": 11, "fontSize": 24, "color": "#50535E"},
              "encoding": {"x": {"datum": "2025-08-19", "type": "ordinal"}, "y": {"datum": 26490}}
            },
            {
              "data": {"values": [{}]},
              "mark": {"type": "text", "text": "24,445.05", "align": "left", "baseline": "middle", "dx": 77, "fontSize": 24, "color": "#AB47BC"},
              "encoding": {"x": {"datum": "2025-08-19", "type": "ordinal"}, "y": {"datum": 26490}}
            }
          ]
        },
        {
          "data": {"name": "tags"},
          "layer": [
            {
              "mark": {"type": "point", "shape": "M0,-0.22L2,-0.22L2,0.22L0,0.22Z", "filled": true, "size": 22500, "opacity": 1, "clip": false},
              "encoding": {
                "x": {"datum": 1, "type": "quantitative", "scale": {"domain": [0, 1]}, "axis": null},
                "y": {"field": "p", "type": "quantitative"},
                "color": {"field": "k", "type": "nominal", "legend": null, "scale": {"domain": ["last", "r1", "r2", "s1", "s2"], "range": ["#26A69A", "#F23645", "#F23645", "#311B92", "#0D2B91"]}}
              }
            },
            {
              "mark": {"type": "text", "align": "left", "baseline": "middle", "dx": 20, "font": "DejaVu Sans", "fontSize": 23, "color": "#ffffff", "clip": false},
              "encoding": {
                "x": {"datum": 1, "type": "quantitative", "scale": {"domain": [0, 1]}, "axis": null},
                "y": {"field": "p", "type": "quantitative"},
                "text": {"field": "p", "type": "quantitative", "format": ",.2f"}
              }
            }
          ]
        },
        {
          "data": {"values": [{}]},
          "layer": [
            {
              "mark": {"type": "point", "shape": "M0.12,-0.327L2.01,-0.327L2.01,0.327L0.12,0.327Z", "filled": true, "fill": "#ffffff", "stroke": "#E0E3EB", "strokeWidth": 1.5, "size": 22500, "opacity": 1, "clip": false},
              "encoding": {"x": {"datum": 1, "type": "quantitative", "scale": {"domain": [0, 1]}, "axis": null}, "y": {"datum": 26870}}
            },
            {
              "mark": {"type": "text", "text": "point", "align": "left", "baseline": "middle", "dx": 26, "font": "DejaVu Sans", "fontSize": 23, "color": "#131722", "clip": false},
              "encoding": {"x": {"datum": 1, "type": "quantitative", "scale": {"domain": [0, 1]}, "axis": null}, "y": {"datum": 26870}}
            }
          ]
        }
      ]
    },
    {
      "width": 1746,
      "height": 252,
      "layer": [
        {
          "data": {"values": [{}]},
          "mark": {"type": "rect", "color": "#7E57C2", "opacity": 0.1},
          "encoding": {"x": {"value": 0}, "x2": {"value": "width"}, "y": {"datum": 70}, "y2": {"datum": 30}}
        },
        {
          "data": {"name": "bars"},
          "transform": [{"filter": "datum.r > 70.5"}],
          "mark": {"type": "area", "color": "#4CAF50", "opacity": 0.22},
          "encoding": {"x": {"field": "d", "type": "ordinal"}, "y": {"field": "r", "type": "quantitative"}, "y2": {"datum": 70}}
        },
        {
          "data": {"values": [{}]},
          "mark": {"type": "rule", "color": "#787B86", "strokeWidth": 2, "strokeDash": [7, 7]},
          "encoding": {"y": {"datum": 70}}
        },
        {
          "data": {"values": [{}]},
          "mark": {"type": "rule", "color": "#787B86", "strokeWidth": 2, "strokeDash": [7, 7]},
          "encoding": {"y": {"datum": 30}}
        },
        {
          "data": {"values": [{}]},
          "mark": {"type": "rule", "color": "#B2B5BE", "strokeWidth": 2, "strokeDash": [7, 7]},
          "encoding": {"y": {"datum": 50}}
        },
        {
          "data": {"name": "bars"},
          "mark": {"type": "line", "color": "#7E57C2", "strokeWidth": 2},
          "encoding": {
            "x": {"field": "d", "type": "ordinal", "title": null,
              "scale": {"type": "band", "paddingInner": 0.15, "paddingOuter": 0.43, "align": 0.37, "domain": {"unionWith": ["2026-08-10","2026-08-11","2026-08-12","2026-08-13","2026-08-14","2026-08-17","2026-08-18","2026-08-19","2026-08-20","2026-08-21","2026-08-24"]}},
              "axis": {"values": ["2025-09-01","2025-10-01","2025-11-03","2025-12-01","2026-01-02","2026-02-02","2026-03-02","2026-04-01","2026-05-04","2026-06-01","2026-07-01","2026-08-03"], "labels": false, "domain": false, "ticks": false, "grid": true, "bandPosition": 0.5}},
            "y": {"field": "r", "type": "quantitative", "title": null,
              "scale": {"domain": [22.1, 85.8], "nice": false, "zero": false},
              "axis": {"orient": "right", "values": [40, 60, 80], "format": ".2f", "grid": true, "domain": true, "labelPadding": 20}}
          }
        },
        {
          "data": {"name": "bars"},
          "transform": [{"filter": {"field": "q", "valid": true}}],
          "mark": {"type": "line", "color": "#FDD835", "strokeWidth": 2, "interpolate": "monotone"},
          "encoding": {"x": {"field": "d", "type": "ordinal"}, "y": {"field": "q", "type": "quantitative"}}
        },
        {
          "data": {"values": [{}]},
          "mark": {"type": "text", "text": "RSI", "align": "left", "baseline": "middle", "dx": 11, "fontSize": 22, "color": "#50535E"},
          "encoding": {"x": {"datum": "2025-08-19", "type": "ordinal"}, "y": {"datum": 77.35}}
        },
        {
          "data": {"values": [{}]},
          "mark": {"type": "text", "text": "70.17", "align": "left", "baseline": "middle", "dx": 63, "fontSize": 22, "color": "#7E57C2"},
          "encoding": {"x": {"datum": "2025-08-19", "type": "ordinal"}, "y": {"datum": 77.35}}
        },
        {
          "data": {"values": [{}]},
          "mark": {"type": "text", "text": "59.87", "align": "left", "baseline": "middle", "dx": 135, "fontSize": 22, "color": "#FDD835"},
          "encoding": {"x": {"datum": "2025-08-19", "type": "ordinal"}, "y": {"datum": 77.35}}
        }
      ]
    },
    {
      "width": 1746,
      "height": 280,
      "layer": [
        {
          "data": {"values": [{}]},
          "mark": {"type": "rule", "color": "#B2B5BE", "strokeWidth": 2, "strokeDash": [7, 7]},
          "encoding": {"y": {"datum": 0}}
        },
        {
          "data": {"name": "bars"},
          "transform": [{"window": [{"op": "lag", "field": "g", "as": "pg"}], "sort": [{"field": "d", "order": "ascending"}]}],
          "mark": {"type": "bar", "width": {"band": 0.75}},
          "encoding": {
            "x": {"field": "d", "type": "ordinal", "title": null,
              "scale": {"type": "band", "paddingInner": 0.15, "paddingOuter": 0.43, "align": 0.37, "domain": {"unionWith": ["2026-08-10","2026-08-11","2026-08-12","2026-08-13","2026-08-14","2026-08-17","2026-08-18","2026-08-19","2026-08-20","2026-08-21","2026-08-24"]}},
              "axis": {"values": ["2025-09-01","2025-10-01","2025-11-03","2025-12-01","2026-01-02","2026-02-02","2026-03-02","2026-04-01","2026-05-04","2026-06-01","2026-07-01","2026-08-03"],
                "labelExpr": "datum.value === '2026-01-02' ? '2026' : timeFormat(toDate(datum.value + 'T12:00:00'), '%b')",
                "labelAngle": 0, "labelFontSize": 23, "labelColor": "#131722", "labelPadding": 15, "labelOverlap": false,
                "labelFontWeight": {"condition": {"test": "datum.value === '2026-01-02'", "value": "bold"}, "value": "normal"},
                "domain": true, "ticks": false, "grid": true, "bandPosition": 0.5}},
            "y": {"field": "g", "type": "quantitative", "title": null,
              "scale": {"domain": [-646, 487], "nice": false, "zero": false},
              "axis": {"orient": "right", "values": [-500, -250, 0, 250], "format": ".2f", "grid": true, "domain": true, "labelPadding": 20}},
            "y2": {"datum": 0},
            "color": {
              "condition": [
                {"test": "datum.g >= 0 && datum.g >= datum.pg", "value": "#26A69A"},
                {"test": "datum.g >= 0", "value": "#B2DFDB"},
                {"test": "datum.g < datum.pg", "value": "#FF5252"}
              ],
              "value": "#FFCDD2"
            }
          }
        },
        {
          "data": {"name": "bars"},
          "transform": [{"filter": {"field": "m", "valid": true}}],
          "mark": {"type": "line", "color": "#2962FF", "strokeWidth": 2},
          "encoding": {"x": {"field": "d", "type": "ordinal"}, "y": {"field": "m", "type": "quantitative"}}
        },
        {
          "data": {"name": "bars"},
          "transform": [{"filter": {"field": "n", "valid": true}}],
          "mark": {"type": "line", "color": "#FF6D00", "strokeWidth": 2, "interpolate": "monotone"},
          "encoding": {"x": {"field": "d", "type": "ordinal"}, "y": {"field": "n", "type": "quantitative"}}
        },
        {
          "data": {"values": [{}]},
          "mark": {"type": "text", "text": "MACD", "align": "left", "baseline": "middle", "dx": 11, "fontSize": 22, "color": "#50535E"},
          "encoding": {"x": {"datum": "2025-08-19", "type": "ordinal"}, "y": {"datum": 352}}
        },
        {
          "data": {"values": [{}]},
          "mark": {"type": "text", "text": "104.51", "align": "left", "baseline": "middle", "dx": 96, "fontSize": 22, "color": "#26A69A"},
          "encoding": {"x": {"datum": "2025-08-19", "type": "ordinal"}, "y": {"datum": 352}}
        },
        {
          "data": {"values": [{}]},
          "mark": {"type": "text", "text": "313.68", "align": "left", "baseline": "middle", "dx": 184, "fontSize": 22, "color": "#2962FF"},
          "encoding": {"x": {"datum": "2025-08-19", "type": "ordinal"}, "y": {"datum": 352}}
        },
        {
          "data": {"values": [{}]},
          "mark": {"type": "text", "text": "209.17", "align": "left", "baseline": "middle", "dx": 274, "fontSize": 22, "color": "#FF6D00"},
          "encoding": {"x": {"datum": "2025-08-19", "type": "ordinal"}, "y": {"datum": 352}}
        },
        {
          "data": {"values": [{}]},
          "mark": {"type": "point", "shape": "M-1,-0.63L-0.3,-0.63L-0.3,0.63L-0.62,0.63L-0.62,-0.22L-1,-0.22Z M-0.22,-0.42A0.2,0.2,0,1,1,0.18,-0.42A0.2,0.2,0,1,1,-0.22,-0.42Z M0.5,-0.63L1,-0.63L0.55,0.63L0.05,0.63Z", "filled": true, "size": 3249, "color": "#131722", "opacity": 1, "clip": false},
          "encoding": {"x": {"datum": "2025-08-26", "type": "ordinal"}, "y": {"datum": -1119}}
        },
        {
          "data": {"values": [{}]},
          "mark": {"type": "text", "text": "TradingView", "align": "left", "baseline": "middle", "dx": 71, "fontSize": 38, "fontWeight": "bold", "color": "#131722", "clip": false},
          "encoding": {"x": {"datum": "2025-08-19", "type": "ordinal"}, "y": {"datum": -1119}}
        }
      ]
    }
  ]
}
